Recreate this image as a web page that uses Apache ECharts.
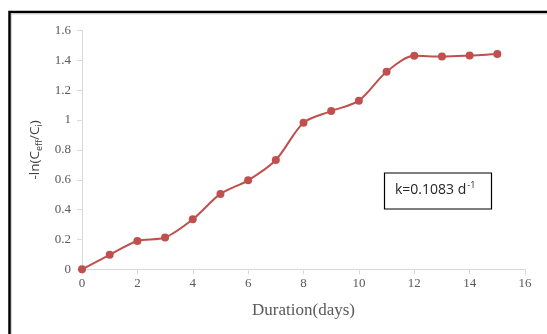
<!DOCTYPE html>
<html>
<head>
<meta charset="utf-8">
<script src="https://cdn.jsdelivr.net/npm/echarts@6/dist/echarts.min.js"></script>
<style>
  html, body { margin: 0; padding: 0; background: #fff; }
  #chart { width: 547px; height: 334px; }
</style>
</head>
<body>
<div id="chart"></div>
<script>
// Duration in days and the matching -ln(Ceff/Ci) values
const days = [0, 1, 2, 3, 4, 5, 6, 7, 8, 9, 10, 11, 12, 13, 14, 15];
const lnRatio = [0, 0.097, 0.19, 0.213, 0.335, 0.505, 0.596, 0.732, 0.982, 1.06, 1.13, 1.323, 1.43, 1.425, 1.432, 1.443];
const rateLabel = 'k=0.1083 d';

const points = days.map((d, i) => [d, lnRatio[i]]);

const chart = echarts.init(document.getElementById('chart'), null, { renderer: 'canvas' });

const serif = '"Liberation Serif", "DejaVu Serif", serif';
const sans = '"Open Sans", "Liberation Sans", sans-serif';

chart.setOption({
  animation: false,
  backgroundColor: '#ffffff',
  grid: { left: 82, right: 22, top: 30.5, bottom: 64.7, containLabel: false },
  xAxis: {
    type: 'value',
    min: 0, max: 16, interval: 2,
    name: 'Duration(days)',
    nameLocation: 'middle',
    nameGap: 33,
    nameTextStyle: { fontFamily: serif, fontSize: 17, color: '#595959' },
    axisLine: { show: true, lineStyle: { color: '#D9D9D9', width: 1 } },
    axisTick: { show: true, length: 5, lineStyle: { color: '#D9D9D9' } },
    axisLabel: { fontFamily: serif, fontSize: 13, color: '#595959', margin: 8 },
    splitLine: { show: false }
  },
  yAxis: {
    type: 'value',
    min: 0, max: 1.6, interval: 0.2,
    name: '{t|-ln(C}{s|eff}{t|/C}{s|i}{t|)}',
    nameLocation: 'middle',
    nameRotate: 90,
    nameGap: 29,
    nameTextStyle: {
      color: '#404040',
      rich: {
        t: { fontFamily: sans, fontSize: 13.5, color: '#404040' },
        s: { fontFamily: sans, fontSize: 9, color: '#404040', padding: [8, 0, 0, 0] }
      }
    },
    axisLine: { show: true, lineStyle: { color: '#D9D9D9', width: 1 } },
    axisTick: { show: true, length: 5, lineStyle: { color: '#D9D9D9' } },
    axisLabel: { fontFamily: serif, fontSize: 13, color: '#595959', margin: 11 },
    splitLine: { show: false }
  },
  series: [{
    type: 'line',
    data: points,
    smooth: 0.3,
    symbol: 'circle',
    symbolSize: 8,
    lineStyle: { color: '#C0504D', width: 2 },
    itemStyle: { color: '#C0504D' }
  }],
  graphic: [
    // outer frame
    { type: 'rect', shape: { x: 9.5, y: 12, width: 560, height: 340 },
      style: { fill: 'none', stroke: '#000', lineWidth: 2.5 }, silent: true, z: 10 },
    { type: 'rect', shape: { x: 11.5, y: 14, width: 560, height: 340 },
      style: { fill: 'none', stroke: '#D0D0D0', lineWidth: 1 }, silent: true, z: 10 },
    // rate constant box
    { type: 'rect', shape: { x: 384.5, y: 173, width: 107, height: 36 },
      style: { fill: '#fff', stroke: '#000', lineWidth: 1.2 }, z: 10 },
    { type: 'text', x: 395, y: 190, z: 11,
      style: {
        text: '{a|' + rateLabel + '}{b|-1}',
        verticalAlign: 'middle',
        rich: {
          a: { fontFamily: sans, fontSize: 14, fill: '#262626' },
          b: { fontFamily: sans, fontSize: 9, fill: '#262626', padding: [0, 0, 9, 1] }
        }
      }
    }
  ]
});
</script>
</body>
</html>
